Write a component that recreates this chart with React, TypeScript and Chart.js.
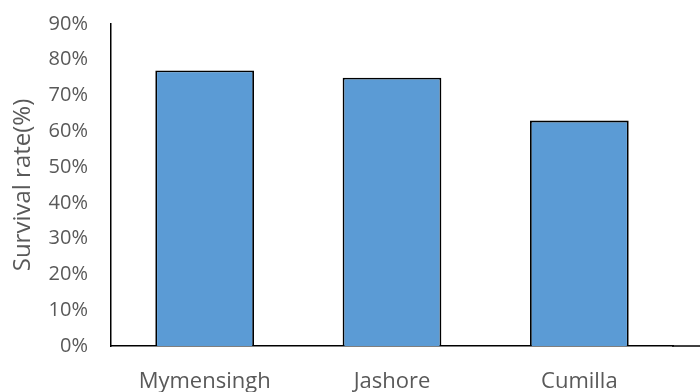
import React, { useEffect, useRef } from "react";
import { Chart, registerables } from "chart.js";

Chart.register(...registerables);

const categories = ["Mymensingh", "Jashore", "Cumilla"];
const survivalRate = [77, 75, 63];
const yTicks = [0, 10, 20, 30, 40, 50, 60, 70, 80, 90];

const FONT = "'Open Sans', sans-serif";

const extendAxis = {
  id: "extendAxis",
  afterDraw(chart: any) {
    const { ctx, chartArea, width } = chart;
    ctx.save();
    ctx.strokeStyle = "#000";
    ctx.lineWidth = 1.5;
    ctx.beginPath();
    ctx.moveTo(chartArea.right - 1, chartArea.bottom);
    ctx.lineTo(width, chartArea.bottom);
    ctx.stroke();
    ctx.restore();
  },
};

export default function App() {
  const ref = useRef<HTMLCanvasElement>(null);
  useEffect(() => {
    if (!ref.current) return;
    const chart = new Chart(ref.current, {
      type: "bar",
      data: {
        labels: categories,
        datasets: [
          {
            label: "Survival rate",
            data: survivalRate,
            backgroundColor: "#5b9bd5",
            borderColor: "#000000",
            borderWidth: 1.8,
            categoryPercentage: 1,
            barPercentage: 0.527,
          },
        ],
      },
      options: {
        animation: false,
        responsive: false,
        maintainAspectRatio: false,
        layout: { padding: { left: 0, top: 24, right: 27, bottom: 0 } },
        plugins: { legend: { display: false }, tooltip: { enabled: false } },
        scales: {
          x: {
            grid: { display: false, drawTicks: false },
            border: { display: true, color: "#000", width: 1.5 },
            ticks: {
              color: "#595959",
              font: { family: FONT, size: 22 },
              padding: 23,
            },
            afterFit(scale: any) {
              scale.height = 46;
              scale.paddingLeft = 0;
              scale.paddingRight = 0;
            },
          },
          y: {
            min: 0,
            max: 90,
            afterBuildTicks(scale: any) {
              scale.ticks = yTicks.map((v) => ({ value: v }));
            },
            grid: { display: false, drawTicks: false },
            border: { display: true, color: "#000", width: 1.5 },
            ticks: {
              color: "#595959",
              font: { family: FONT, size: 20 },
              padding: 23,
              callback: (v: any) => `${v}%`,
            },
            title: {
              display: true,
              text: "Survival rate(%)",
              color: "#595959",
              font: { family: FONT, size: 24 },
              padding: { top: 9, bottom: 0 },
            },
            afterFit(scale: any) {
              scale.width = 111;
              scale.paddingTop = 0;
              scale.paddingBottom = 0;
            },
          },
        },
      },
      plugins: [extendAxis],
    });
    return () => chart.destroy();
  }, []);
  return (
    <div style={{ position: "absolute", left: 0, top: 0, width: 700, height: 392, background: "#fff" }}>
      <canvas ref={ref} width={700} height={392} style={{ width: 700, height: 392 }} />
    </div>
  );
}
